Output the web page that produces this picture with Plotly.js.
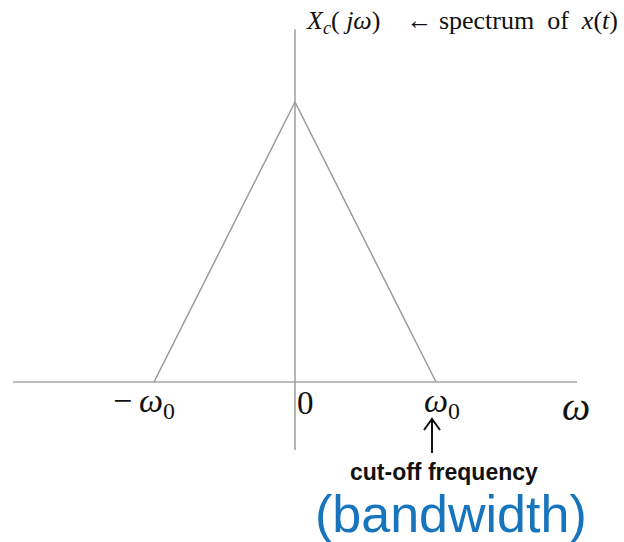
<!DOCTYPE html>
<html>
<head>
<meta charset="utf-8">
<script src="https://cdn.plot.ly/plotly-3.0.1.min.js"></script>
<style>html,body{margin:0;padding:0;background:#fff;}#chart{width:624px;height:542px;}</style>
</head>
<body>
<div id="chart"></div>
<script>
// Triangular band-limited spectrum X_c(jω), cut-off at ±ω0 (ω0 = 1)
const spectrumW = [-1, 0, 1];
const spectrumMag = [0, 1, 0];

// Frequency-axis and magnitude-axis extents
const freqAxisW = [-2, 2];
const freqAxisMag = [0, 0];
const magAxisW = [0, 0];
const magAxisMag = [-0.243, 1.26];

// Tick labels on the frequency axis
const tickW = [-1, 0, 1];
const tickText = ['\u2212\u2009<i>\u03C9</i><sub>0</sub>', '0', '<i>\u03C9</i><sub>0</sub>'];

const W = 624, H = 542;
const serif = 'Liberation Serif, Times New Roman, serif';
const sans = 'Liberation Sans, Arial, Helvetica, sans-serif';
const axisGrey = '#a3a3a3';
const px = v => v / W;          // horizontal pixel -> paper fraction
const py = v => 1 - v / H;      // vertical pixel -> paper fraction

const traces = [
  {x: freqAxisW, y: freqAxisMag, mode: 'lines', line: {color: axisGrey, width: 1.6}, hoverinfo: 'skip'},
  {x: magAxisW, y: magAxisMag, mode: 'lines', line: {color: axisGrey, width: 1.6}, hoverinfo: 'skip'},
  {x: spectrumW, y: spectrumMag, mode: 'lines', line: {color: '#9a9a9a', width: 1.5}, hoverinfo: 'skip'}
];

const annotations = [];
const tickShift = [-10, 10, 6];
const tickSize = [34, 33, 34];
tickW.forEach((w, i) => {
  annotations.push({
    x: w, y: 0, xref: 'x', yref: 'y', text: tickText[i], showarrow: false,
    xanchor: 'center', yanchor: 'middle', xshift: tickShift[i], yshift: -21,
    font: {family: serif, size: tickSize[i], color: '#111'}
  });
});

const nb = '\u00A0';
annotations.push(
  {x: 2, y: 0, xref: 'x', yref: 'y', text: '<i>\u03C9</i>', showarrow: false,
   xanchor: 'center', yanchor: 'middle', xshift: -1, yshift: -24,
   font: {family: serif, size: 40, color: '#111'}},
  {x: 0, y: magAxisMag[1], xref: 'x', yref: 'y', showarrow: false,
   text: '<i>X</i><sub><i>c</i></sub>(<i> j\u03C9</i>)' + nb + nb + nb + nb + '\u2190 spectrum' + nb + nb + 'of' + nb + nb + '<i>x</i>(<i>t</i>)',
   xanchor: 'left', yanchor: 'middle', xshift: 9, yshift: 7,
   font: {family: serif, size: 26, color: '#111'}},
  {x: px(444), y: py(472), xref: 'paper', yref: 'paper', text: '<b>cut-off frequency</b>',
   showarrow: false, xanchor: 'center', yanchor: 'middle',
   font: {family: sans, size: 23, color: '#111'}},
  {x: px(451), y: py(514), xref: 'paper', yref: 'paper', text: '(bandwidth)',
   showarrow: false, xanchor: 'center', yanchor: 'middle',
   font: {family: sans, size: 52, color: '#1775be'}}
);

// Upward pointer from the cut-off label to ω0
const shapes = [
  {type: 'path', xref: 'paper', yref: 'paper',
   path: `M ${px(432)} ${py(453)} L ${px(432)} ${py(420)} M ${px(424)} ${py(430)} L ${px(432)} ${py(419)} L ${px(440)} ${py(430)}`,
   line: {color: '#111', width: 2}}
];

const layout = {
  width: W, height: H,
  margin: {l: 0, r: 0, t: 0, b: 0},
  paper_bgcolor: '#fff', plot_bgcolor: '#fff',
  showlegend: false,
  xaxis: {range: [-295 / 141, (W - 295) / 141], visible: false, fixedrange: true},
  yaxis: {range: [-160 / 280, 382 / 280], visible: false, fixedrange: true},
  annotations: annotations,
  shapes: shapes
};

Plotly.newPlot('chart', traces, layout, {staticPlot: true, displayModeBar: false});
</script>
</body>
</html>
